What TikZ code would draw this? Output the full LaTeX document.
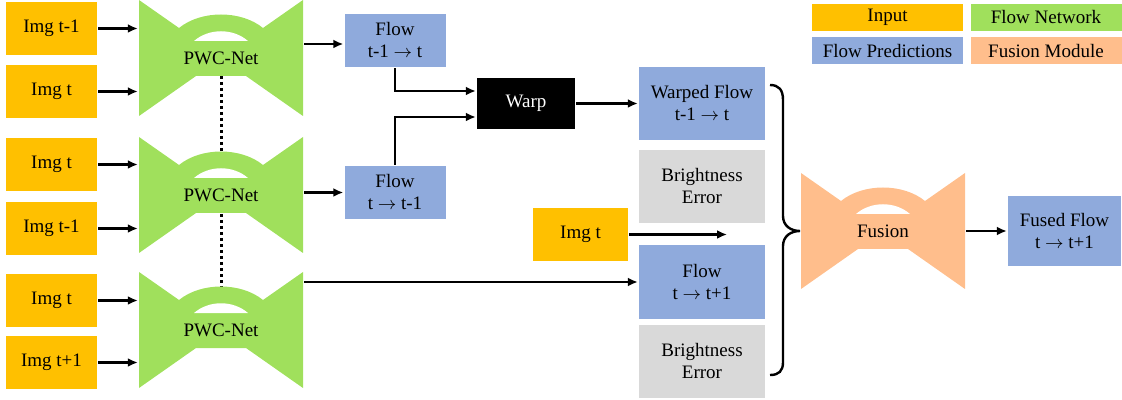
\documentclass[tikz,border=0pt]{standalone}
\usepackage{fontspec}
\setmainfont{Liberation Serif}
\usepackage{tikz}
\usetikzlibrary{arrows,arrows.meta}
\definecolor{input}{HTML}{FFC000}
\definecolor{network}{HTML}{A0E05C}
\definecolor{prediction}{HTML}{8FAADC}
\definecolor{fusion}{HTML}{FFBE8C}
\definecolor{error}{HTML}{D9D9D9}
\newcommand{\flowto}{\ensuremath{\rightarrow}}
\tikzset{%
    >={Latex[length=5pt,width=4.5pt]},
    netshape/.pic={
        \fill (-82,-58) -- (-42,-30) .. controls (-20,-48) and (20,-48) .. (42,-30) -- (82,-58)
            -- (82,58) -- (25,18) -- (-25,18) -- (-82,58) -- cycle;
        \fill[white] (-27,-17) .. controls (-12,-30) and (12,-30) .. (27,-17) -- cycle;
    }
}

\begin{document}
\begin{tikzpicture}[x=0.5pt, y=-0.5pt, line width=1.2pt, font=\fontsize{9.5}{11}\selectfont,
    every node/.style={align=center, inner sep=0pt},
    imgbox/.style={fill=input, minimum width=45.5pt, minimum height=26.5pt},
    flowbox/.style={fill=prediction, minimum width=50.5pt, minimum height=26.5pt},
    sidebox/.style={minimum width=63pt, minimum height=36.5pt},
    netnode/.style={minimum width=82pt, minimum height=58pt},
    legend/.style={minimum width=75.5pt, minimum height=13.5pt}]
  \useasboundingbox (0,0) rectangle (1122,400);

  % legend
  \node[legend, fill=input] (leginput) at (887.5,17.5) {Input};
  \node[legend, fill=network] (legnet) at (1046,17.5) {Flow Network};
  \node[legend, fill=prediction] (legpred) at (887.5,51) {Flow Predictions};
  \node[legend, fill=fusion] (legfusion) at (1046,51) {Fusion Module};

  \foreach \n/\y/\txt in {1/28.5/Img t-1, 2/91.5/Img t, 3/164.5/Img t, 4/228.5/Img t-1, 5/300.5/Img t, 6/362.5/Img t+1}
      \node[imgbox] (img\n) at (51.5,\y) {\txt};

  \coordinate (c1) at (221,58);
  \coordinate (c2) at (221,195);
  \coordinate (c3) at (221,330);
  \draw[line width=1.5pt, dash pattern=on 1.5pt off 1.5pt] (c1) -- (c3);
  \foreach \c in {c1,c2,c3}
      \pic[color=network] at (\c) {netshape};
  \pic[color=fusion] at (883,231) {netshape};

  \node[netnode] (pwc1) at (c1) {PWC-Net};
  \node[netnode] (pwc2) at (c2) {PWC-Net};
  \node[netnode] (pwc3) at (c3) {PWC-Net};
  \node[netnode] (fusion) at (883,231) {Fusion};

  \foreach \i/\n in {1/1,2/1,3/2,4/2,5/3,6/3}
      \draw[->] (img\i.east) -- (img\i.east -| pwc\n.west);

  \node[flowbox] (flow1) at (395,40.5) {Flow\\t-1 \flowto{} t};
  \node[flowbox] (flow2) at (395,192.5) {Flow\\t \flowto{} t-1};
  \node[fill=black, text=white, minimum width=49pt, minimum height=25.5pt] (warp) at (526,103.5) {Warp};
  \draw[->] ([yshift=-1.75pt]pwc1.east |- flow1) -- ([yshift=-1.75pt]flow1.west);
  \draw[->] (pwc2.east |- flow2) -- (flow2.west);
  \draw[->] (flow1.south) |- ([yshift=6.25pt]warp.west);
  \draw[->] (flow2.north) |- ([yshift=-6.75pt]warp.west);

  \node[sidebox, fill=prediction] (warped) at (702,103.5) {Warped Flow\\t-1 \flowto{} t};
  \node[sidebox, fill=error] (error1) at (702,186.5) {Brightness\\Error};
  \node[sidebox, fill=prediction] (flow3) at (702,282) {Flow\\t \flowto{} t+1};
  \node[sidebox, fill=error] (error2) at (702,361) {Brightness\\Error};
  \draw[->] (warp) -- (warped);
  \draw[->] (pwc3.east |- flow3) -- (flow3.west);

  \node[imgbox, minimum width=47.5pt] (imgmid) at (580.5,234.5) {Img t};
  \coordinate (imgend) at (727,234.5);
  \draw[->] (imgmid) -- (imgend);

  \draw (770,85) .. controls (779,85) and (783,90) .. (783,100) -- (783,216)
      .. controls (783,226) and (791,231) .. (800,231)
      .. controls (791,231) and (783,236) .. (783,246) -- (783,362)
      .. controls (783,371) and (779,375) .. (770,375);

  \node[fill=prediction, minimum width=56.5pt, minimum height=35pt] (fused) at (1064.5,231) {Fused Flow\\t \flowto{} t+1};
  \draw[->] (fusion) -- (fused);
\end{tikzpicture}
\end{document}
